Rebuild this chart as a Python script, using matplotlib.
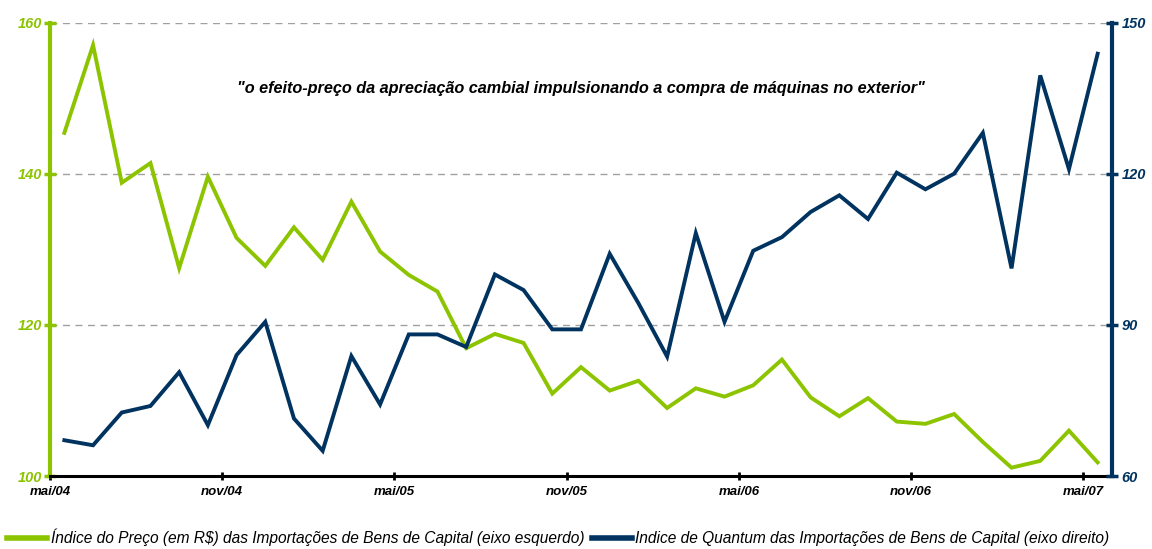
import matplotlib
matplotlib.use("Agg")
import matplotlib.pyplot as plt
import numpy as np

plt.rcParams['font.family'] = ['Liberation Sans', 'DejaVu Sans']

months = ["mai/04", "jun/04", "jul/04", "ago/04", "set/04", "out/04", "nov/04", "dez/04",
          "jan/05", "fev/05", "mar/05", "abr/05", "mai/05", "jun/05", "jul/05", "ago/05",
          "set/05", "out/05", "nov/05", "dez/05", "jan/06", "fev/06", "mar/06", "abr/06",
          "mai/06", "jun/06", "jul/06", "ago/06", "set/06", "out/06", "nov/06", "dez/06",
          "jan/07", "fev/07", "mar/07", "abr/07", "mai/07"]

preco = [145.4, 157.0, 138.8, 141.4, 127.5, 139.6, 131.5, 127.8, 132.9, 128.6,
         136.3, 129.7, 126.6, 124.4, 116.9, 118.8, 117.6, 110.9, 114.4, 111.3,
         112.6, 109.0, 111.6, 110.5, 112.0, 115.4, 110.4, 107.9, 110.3, 107.2,
         106.9, 108.2, 104.5, 101.1, 102.0, 106.0, 101.8]

quantum = [67.1, 66.1, 72.6, 73.9, 80.6, 70.1, 84.0, 90.6, 71.4, 65.0,
           83.8, 74.2, 88.1, 88.1, 85.6, 100.0, 96.9, 89.1, 89.1, 104.1,
           94.3, 83.7, 108.2, 90.6, 104.7, 107.4, 112.4, 115.7, 111.0, 120.2,
           116.9, 120.0, 128.1, 101.2, 139.5, 120.9, 143.8]

xtick_labels = ["mai/04", "nov/04", "mai/05", "nov/05", "mai/06", "nov/06", "mai/07"]
left_ticks = [100, 120, 140, 160]
right_ticks = [60, 90, 120, 150]

GREEN = "#8cc400"
NAVY = "#00335f"

fig = plt.figure(figsize=(11.52, 5.49), dpi=100)
ax = fig.add_axes([50/1152, 1-476/549, (1112-50)/1152, (476-22.5)/549])
ax2 = ax.twinx()

x = np.arange(len(months))
l1, = ax.plot(x, preco, color=GREEN, lw=2.8, solid_joinstyle='miter',
              label="Índice do Preço (em R$) das Importações de Bens de Capital (eixo esquerdo)")
l2, = ax2.plot(x, quantum, color=NAVY, lw=2.8, solid_joinstyle='miter',
               label="Indice de Quantum das Importações de Bens de Capital (eixo direito)")

ax.set_xlim(-0.5, len(months) - 0.5)
ax.set_ylim(100, 160)
ax2.set_ylim(60, 150)

ax.set_yticks(left_ticks)
ax2.set_yticks(right_ticks)
xt = [-0.5 + 6 * k for k in range(len(xtick_labels))]
ax.set_xticks(xt)
ax.set_xticklabels(xtick_labels)

for g in [120, 140, 160]:
    ax.axhline(g, color="#a0a0a0", lw=1.0, ls=(0, (5, 4)), zorder=0)

for s in ["top"]:
    ax.spines[s].set_visible(False)
    ax2.spines[s].set_visible(False)
ax.spines["right"].set_visible(False)
ax2.spines["left"].set_visible(False)
ax2.spines["bottom"].set_visible(False)
ax.spines["left"].set_color(GREEN)
ax.spines["left"].set_linewidth(3)
ax2.spines["right"].set_color(NAVY)
ax2.spines["right"].set_linewidth(3)
ax.spines["bottom"].set_color("black")
ax.spines["bottom"].set_linewidth(2.2)
ax.spines["bottom"].set_zorder(5)

ax.tick_params(axis="y", direction="inout", length=8, width=2.5, color=GREEN,
               labelcolor=GREEN, labelsize=10.5, pad=2)
ax2.tick_params(axis="y", direction="inout", length=8, width=2.5, color=NAVY,
                labelcolor=NAVY, labelsize=10.5, pad=3)
ax.tick_params(axis="x", direction="inout", length=6, width=2, color="black",
               labelcolor="black", labelsize=9.5, pad=4)
for lab in ax.get_yticklabels() + ax2.get_yticklabels() + ax.get_xticklabels():
    lab.set_fontstyle("italic")
    lab.set_fontweight("bold")

ax.text(0.5, 0.855, '"o efeito-preço da apreciação cambial impulsionando a compra de máquinas no exterior"',
        transform=ax.transAxes, ha="center", va="center", fontsize=11.7,
        fontstyle="italic", fontweight="bold", color="black")

leg = fig.legend(handles=[l1, l2], loc="lower left", bbox_to_anchor=(-0.002, -0.012),
                 ncol=2, frameon=False, fontsize=11.2, handlelength=2.6,
                 handletextpad=0.2, columnspacing=0.5, borderaxespad=0.2)
for t in leg.get_texts():
    t.set_fontstyle("italic")
for h in leg.legend_handles:
    h.set_linewidth(4)

fig.savefig("out.png", dpi=100)
